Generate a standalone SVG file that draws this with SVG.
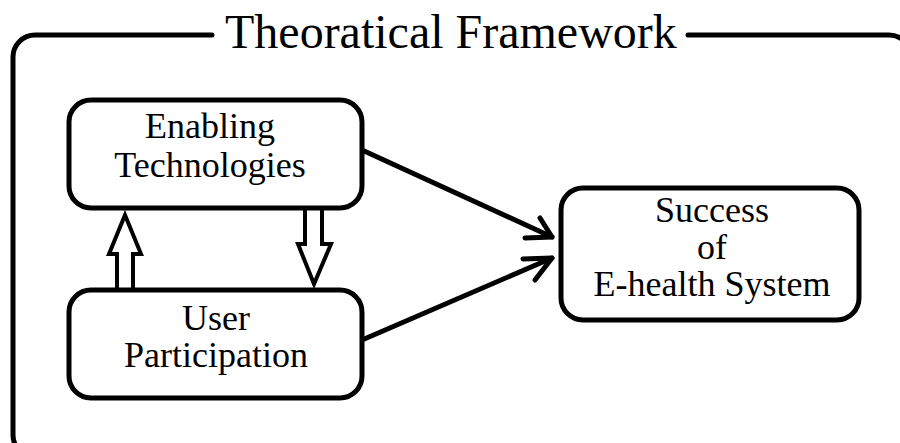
<svg xmlns="http://www.w3.org/2000/svg" width="900" height="443" viewBox="0 0 900 443">
<style>
.frame{fill:none;stroke:#000;stroke-width:5;stroke-linecap:round;stroke-linejoin:round}
.box{fill:#fff;stroke:#000;stroke-width:5}
.conn{fill:none;stroke:#000;stroke-width:5;stroke-linecap:round;stroke-linejoin:round}
.block{fill:#fff;stroke:#000;stroke-width:4;stroke-linejoin:miter}
.lbl{font-family:"Liberation Serif","Times New Roman",serif;font-size:36px;fill:#000;text-anchor:middle}
.title{font-family:"Liberation Serif","Times New Roman",serif;font-size:48px;fill:#000}
</style>
<rect width="900" height="443" fill="#fff"/>
<g id="frame">
<path class="frame" d="M212,35 H35 A22,22 0 0 0 13,57 V435 A22,22 0 0 0 35,457"/>
<path class="frame" d="M688,35 H889 A22,22 0 0 1 911,57 V470"/>
<text class="title" x="225" y="48">Theoratical Framework</text>
</g>
<g id="connectors">
<path class="conn" d="M362,150 L552,237"/>
<path class="conn" d="M525,238 L552,237 L540,218"/>
<path class="conn" d="M362,340 L552,258"/>
<path class="conn" d="M523,259 L552,258 L535,280"/>
<path class="block" d="M117,290 V254 H109 L125,215 L141,254 H133 V290 Z"/>
<path class="block" d="M305,208 V244 H298 L314,284 L331,244 H322 V208 Z"/>
</g>
<g id="enabling">
<rect class="box" x="69" y="100" width="293" height="108" rx="22"/>
<text class="lbl" x="210" y="138">Enabling</text>
<text class="lbl" x="210" y="177">Technologies</text>
</g>
<g id="user">
<rect class="box" x="69" y="290" width="293" height="108" rx="22"/>
<text class="lbl" x="216" y="330">User</text>
<text class="lbl" x="216" y="367">Participation</text>
</g>
<g id="success">
<rect class="box" x="561" y="188" width="298" height="132" rx="22"/>
<text class="lbl" x="712" y="222">Success</text>
<text class="lbl" x="712" y="259">of</text>
<text class="lbl" x="712" y="296">E-health System</text>
</g>
</svg>
